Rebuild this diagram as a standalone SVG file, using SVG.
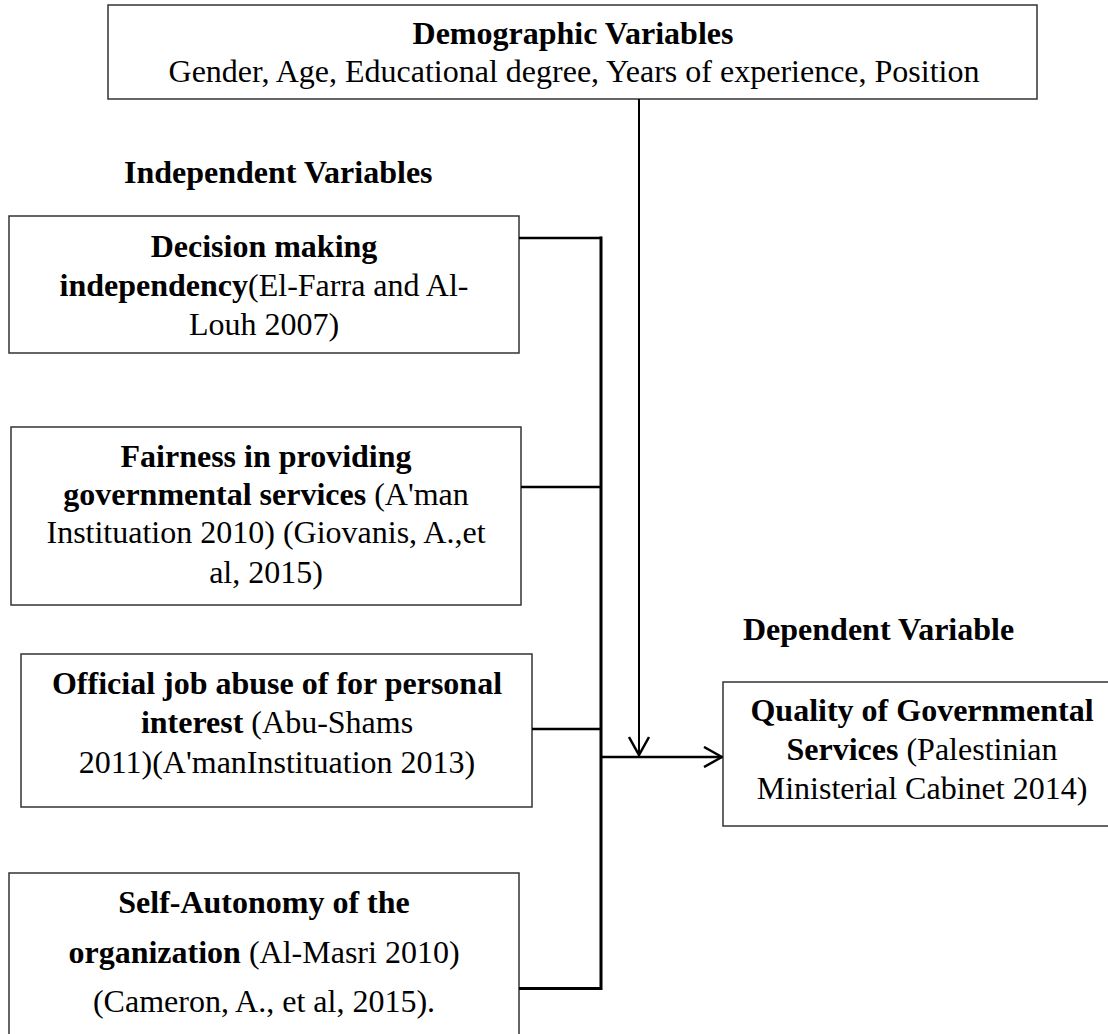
<svg xmlns="http://www.w3.org/2000/svg" width="1108" height="1034" viewBox="0 0 1108 1034">
<defs>
<style>
.box{fill:#fff;stroke:#333;stroke-width:1.5}
text{font-family:"Liberation Serif","Times New Roman",serif;font-size:32px;fill:#000}
.c{text-anchor:middle}
.b{font-weight:bold}
.ln{stroke:#000;fill:none}
</style>
<marker id="arr" viewBox="0 0 20 22" refX="19" refY="11" markerWidth="20" markerHeight="22" markerUnits="userSpaceOnUse" orient="auto">
<path d="M1,1 L19,11 L1,21" fill="none" stroke="#000" stroke-width="2.5"/>
</marker>
</defs>
<rect width="1108" height="1034" fill="#fff"/>

<g id="demographic">
<rect class="box" x="108" y="5" width="929" height="94"/>
<text class="c b" x="573" y="44">Demographic Variables</text>
<text class="c" x="574" y="82">Gender, Age, Educational degree, Years of experience, Position</text>
</g>

<g id="label-independent">
<text class="b" x="124" y="183">Independent Variables</text>
</g>

<g id="decision">
<rect class="box" x="9" y="216" width="510" height="137"/>
<text class="c b" x="264" y="257">Decision making</text>
<text class="c" x="264" y="296"><tspan class="b">independency</tspan>(El-Farra and Al-</text>
<text class="c" x="264" y="335">Louh 2007)</text>
</g>

<g id="fairness">
<rect class="box" x="11" y="427" width="510" height="178"/>
<text class="c b" x="266" y="467">Fairness in providing</text>
<text class="c" x="266" y="505"><tspan class="b">governmental services</tspan> (A'man</text>
<text class="c" x="266" y="543">Instituation 2010) (Giovanis, A.,et</text>
<text class="c" x="266" y="583">al, 2015)</text>
</g>

<g id="abuse">
<rect class="box" x="21" y="654" width="511" height="153"/>
<text class="c b" x="277" y="694">Official job abuse of for personal</text>
<text class="c" x="277" y="733"><tspan class="b">interest</tspan> (Abu-Shams</text>
<text class="c" x="277" y="773">2011)(A'manInstituation 2013)</text>
</g>

<g id="autonomy">
<rect class="box" x="9" y="873" width="510" height="180"/>
<text class="c b" x="264" y="913">Self-Autonomy of the</text>
<text class="c" x="264" y="963"><tspan class="b">organization</tspan> (Al-Masri 2010)</text>
<text class="c" x="264" y="1012">(Cameron, A., et al, 2015).</text>
</g>

<g id="label-dependent">
<text class="b" x="743" y="640">Dependent Variable</text>
</g>

<g id="quality">
<rect class="box" x="723" y="682" width="398" height="144"/>
<text class="c b" x="922" y="721">Quality of Governmental</text>
<text class="c" x="922" y="760"><tspan class="b">Services</tspan> (Palestinian</text>
<text class="c" x="922" y="799">Ministerial Cabinet 2014)</text>
</g>

<g id="connectors">
<line class="ln" x1="601" y1="236.5" x2="601" y2="990" stroke-width="3"/>
<line class="ln" x1="519" y1="238" x2="602" y2="238" stroke-width="2.5"/>
<line class="ln" x1="521" y1="487" x2="601" y2="487" stroke-width="2.5"/>
<line class="ln" x1="532" y1="729" x2="601" y2="729" stroke-width="2.5"/>
<line class="ln" x1="519" y1="988.5" x2="602" y2="988.5" stroke-width="3"/>
<line class="ln" x1="601" y1="757" x2="722" y2="757" stroke-width="2.5" marker-end="url(#arr)"/>
<line class="ln" x1="639" y1="99" x2="639" y2="755" stroke-width="2" marker-end="url(#arr)"/>
</g>
</svg>
